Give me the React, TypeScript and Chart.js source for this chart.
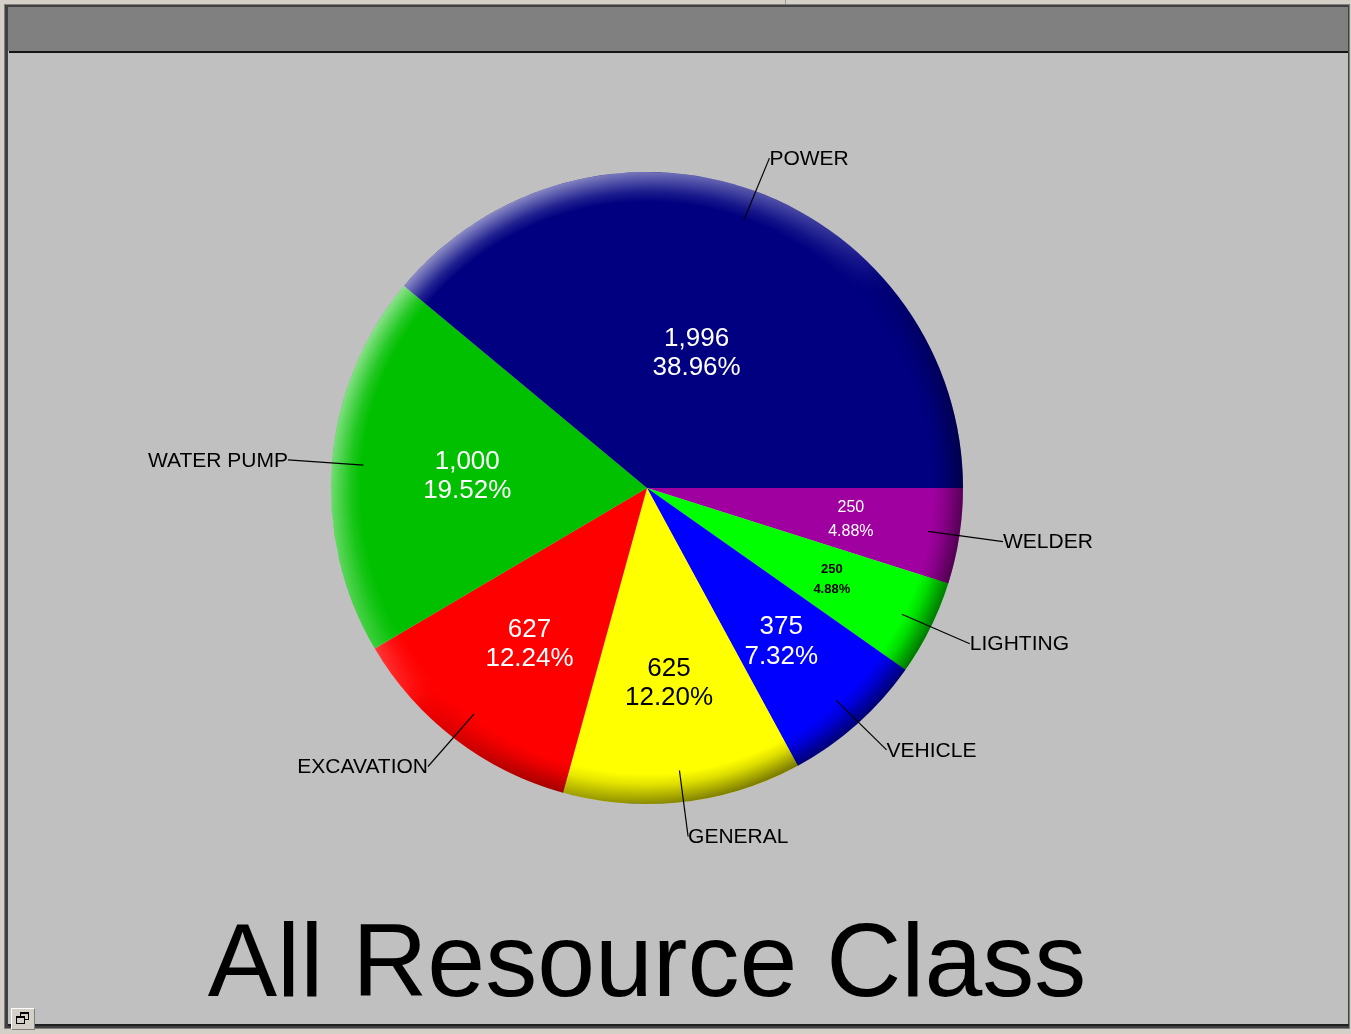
import React, { useEffect, useRef } from "react";
import { Chart, registerables } from "chart.js";

Chart.register(...registerables);

// Slices in drawing order (clockwise from 3 o'clock)
const CATEGORIES = ["WELDER", "LIGHTING", "VEHICLE", "GENERAL", "EXCAVATION", "WATER PUMP", "POWER"];
const VALUES = [250, 250, 375, 625, 627, 1000, 1996];
const SLICE_COLORS = ["#A000A0", "#00FF00", "#0000FF", "#FFFF00", "#FF0000", "#00C000", "#000080"];
const VALUE_TEXT_COLORS = ["#FFFFFF", "#000000", "#FFFFFF", "#000000", "#FFFFFF", "#FFFFFF", "#FFFFFF"];
const VALUE_FONT_SIZES = [16, 13, 26, 26, 26, 26, 26];
const VALUE_FONT_WEIGHTS = ["normal", "bold", "normal", "normal", "normal", "normal", "normal"];
const TITLE = "All Resource Class";

const FONT = '"Liberation Sans", Arial, Helvetica, sans-serif';

const pieDecor = {
  id: "pieDecor",
  afterDatasetsDraw(chart: any) {
    const ctx: CanvasRenderingContext2D = chart.ctx;
    const meta = chart.getDatasetMeta(0);
    const arcs = meta.data;
    if (!arcs.length) return;
    const { x, y, outerRadius: r } = arcs[0].getProps(["x", "y", "outerRadius"], true);
    const dpr = chart.currentDevicePixelRatio || 1;

    // 3D-like rim shading
    const rim = 30;
    const drawShade = (rgb: string, maxA: number, dir: number) => {
      const off = document.createElement("canvas");
      off.width = chart.canvas.width;
      off.height = chart.canvas.height;
      const o = off.getContext("2d")!;
      o.scale(dpr, dpr);
      const rg = o.createRadialGradient(x, y, r - rim, x, y, r);
      rg.addColorStop(0, `rgba(${rgb},0)`);
      rg.addColorStop(0.35, `rgba(${rgb},0.25)`);
      rg.addColorStop(1, `rgba(${rgb},1)`);
      o.fillStyle = rg;
      o.beginPath();
      o.arc(x, y, r, 0, Math.PI * 2);
      o.fill();
      o.globalCompositeOperation = "destination-in";
      const cg = (o as any).createConicGradient(0, x, y);
      const N = 72;
      for (let i = 0; i <= N; i++) {
        const t = i / N;
        const th = t * Math.PI * 2;
        const a = Math.pow(Math.max(0, Math.cos(th - dir)), 0.6) * maxA;
        cg.addColorStop(t, `rgba(0,0,0,${a.toFixed(3)})`);
      }
      o.fillStyle = cg;
      o.fillRect(0, 0, chart.width, chart.height);
      ctx.save();
      ctx.setTransform(1, 0, 0, 1, 0, 0);
      ctx.drawImage(off, 0, 0);
      ctx.restore();
    };
    const lightDir = Math.PI * 1.26; // upper-left (canvas angles)
    drawShade("255,255,255", 0.55, lightDir);
    drawShade("0,0,0", 0.55, lightDir - Math.PI);

    const total = VALUES.reduce((a, b) => a + b, 0);
    ctx.save();
    arcs.forEach((arc: any, i: number) => {
      const { startAngle, endAngle } = arc.getProps(["startAngle", "endAngle"], true);
      const mid = (startAngle + endAngle) / 2;
      const c = Math.cos(mid);
      const s = Math.sin(mid);
      const pct = VALUES[i] / total;

      // value + percentage inside
      const f = 0.68 - 0.56 * pct;
      const lx = x + c * r * f;
      const size = VALUE_FONT_SIZES[i];
      const ly = y + s * r * f + (size < 20 ? 0 : 3);
      const gap = size < 20 ? size * 1.55 : size * 1.12;
      ctx.fillStyle = VALUE_TEXT_COLORS[i];
      ctx.font = `${VALUE_FONT_WEIGHTS[i]} ${size}px ${FONT}`;
      ctx.textAlign = "center";
      ctx.textBaseline = "middle";
      ctx.fillText(VALUES[i].toLocaleString("en-US"), lx, ly - gap / 2);
      ctx.fillText((pct * 100).toFixed(2) + "%", lx, ly + gap / 2);

      // leader line + category label
      const r1 = r * 0.9;
      const x1 = x + c * r1;
      const y1 = y + s * r1;
      const x2 = x + c * r * 1.14;
      const y2 = y + s * r * 1.11;
      ctx.strokeStyle = "#000000";
      ctx.lineWidth = 1.2;
      ctx.beginPath();
      ctx.moveTo(x1, y1);
      ctx.lineTo(x2, y2);
      ctx.stroke();
      ctx.fillStyle = "#000000";
      ctx.font = `normal 21px ${FONT}`;
      ctx.textAlign = c >= 0 ? "left" : "right";
      ctx.textBaseline = "middle";
      ctx.fillText(CATEGORIES[i], x2, y2 + 1);
    });
    ctx.restore();
  },
};

export default function App() {
  const ref = useRef<HTMLCanvasElement>(null);

  useEffect(() => {
    document.body.style.margin = "0";
    const chart = new Chart(ref.current!, {
      type: "pie",
      data: {
        labels: CATEGORIES,
        datasets: [
          {
            data: VALUES,
            backgroundColor: SLICE_COLORS,
            borderWidth: 0,
            radius: 316,
          } as any,
        ],
      },
      options: {
        responsive: false,
        animation: false,
        events: [],
        rotation: 90,
        layout: { padding: { left: 0, right: 57, top: 61, bottom: 15 } },
        plugins: {
          legend: { display: false },
          tooltip: { enabled: false },
          title: {
            display: true,
            position: "bottom",
            text: TITLE,
            color: "#000000",
            padding: 0,
            font: { family: FONT, size: 104, weight: "normal", lineHeight: 1 },
          },
        },
      },
      plugins: [pieDecor],
    });
    return () => chart.destroy();
  }, []);

  return (
    <div
      style={{
        position: "absolute",
        left: 0,
        top: 0,
        width: 1351,
        height: 1034,
        background: "#D4D0C8",
        overflow: "hidden",
      }}
    >
      <div style={{ position: "absolute", left: 785, top: 0, width: 1, height: 5, background: "#9A9A9A" }} />
      <div style={{ position: "absolute", left: 4, top: 4, width: 1346, height: 1025, background: "#808080" }} />
      <div style={{ position: "absolute", left: 5, top: 5, width: 1344, height: 1023, background: "#404040" }} />
      <div style={{ position: "absolute", left: 8, top: 7, width: 1340, height: 1017, background: "#C0C0C0" }} />
      <div style={{ position: "absolute", left: 8, top: 7, width: 1340, height: 44, background: "#808080" }} />
      <div style={{ position: "absolute", left: 9, top: 51, width: 1339, height: 2, background: "#141414" }} />
      <div style={{ position: "absolute", left: 8, top: 1024, width: 1341, height: 2, background: "#202020" }} />
      <div
        style={{
          position: "absolute",
          left: 11,
          top: 1008,
          width: 24,
          height: 22,
          background: "#D4D0C8",
          borderTop: "1px solid #FFFFFF",
          borderLeft: "1px solid #FFFFFF",
          borderRight: "1px solid #808080",
          borderBottom: "1px solid #808080",
          boxSizing: "border-box",
        }}
      >
        <div style={{ position: "absolute", left: 8, top: 3, width: 9, height: 8, border: "1px solid #000", borderTopWidth: 2, boxSizing: "border-box" }} />
        <div style={{ position: "absolute", left: 4, top: 7, width: 9, height: 8, border: "1px solid #000", borderTopWidth: 2, background: "#D4D0C8", boxSizing: "border-box" }} />
      </div>
      <canvas ref={ref} width={1351} height={1034} style={{ position: "absolute", left: 0, top: 0 }} />
    </div>
  );
}
